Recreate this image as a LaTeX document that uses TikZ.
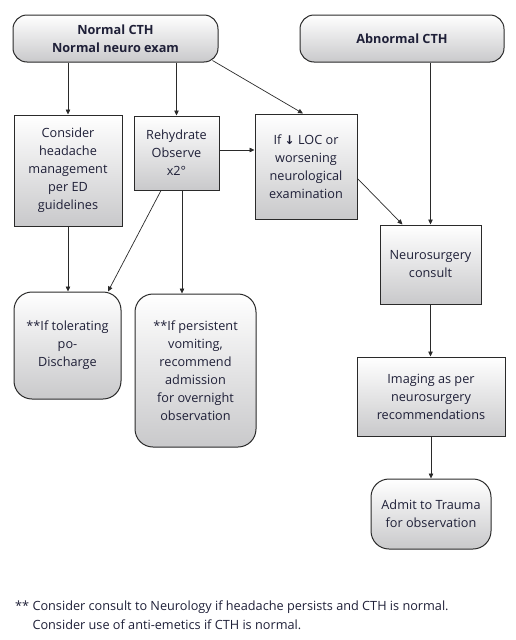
\documentclass[tikz,border=0pt]{standalone}
\usepackage{fontspec}
\setmainfont{Open Sans}
\newfontfamily\symfont{DejaVu Sans}
\usetikzlibrary{positioning,arrows.meta,calc}
\definecolor{ink}{HTML}{1F2038}
\definecolor{edge}{HTML}{2A2A2A}
\definecolor{shadebot}{HTML}{C9C9CB}
\tikzset{
  flowbox/.style={draw=edge, line width=1pt, top color=white, bottom color=shadebot,
    align=center, inner sep=0pt, text=ink, font=\fontsize{12.7}{18}\selectfont},
  roundbox/.style={flowbox, rounded corners=18pt},
  arr/.style={-{Triangle[length=5pt,width=4.5pt]}, draw=edge, line width=0.7pt}
}
\begin{document}
\begin{tikzpicture}[x=1pt,y=-1pt]
\useasboundingbox (0,0) rectangle (515,640);
% top row
\node[roundbox, rounded corners=14pt, minimum width=205pt, minimum height=47pt] (normal) at (115.5,38.5) {\textbf{Normal CTH}\\\textbf{Normal neuro exam}};
\node[roundbox, rounded corners=14pt, minimum width=204pt, minimum height=47pt] (abnormal) at (402,38.5) {\textbf{Abnormal CTH}};
% second row
\node[flowbox, minimum width=108pt, minimum height=111pt] (headache) at (68,170.5) {Consider\\headache\\management\\per ED\\guidelines};
\node[flowbox, minimum width=85pt, minimum height=74pt] (rehydrate) at (176.5,153) {Rehydrate\\Observe\\x2°};
\node[flowbox, minimum width=102pt, minimum height=105pt] (loc) at (306,166.5) {If {\symfont\bfseries\large ↓} LOC or\\worsening\\neurological\\examination};
\node[flowbox, minimum width=101pt, minimum height=79pt] (neuro) at (430.5,264.5) {Neurosurgery\\consult};
% outcomes
\node[roundbox, minimum width=107pt, minimum height=107pt] (tolerate) at (67.5,345.5) {**If tolerating\\po-\\Discharge};
\node[roundbox, minimum width=121pt, minimum height=153pt] (persist) at (195.5,370.5) {**If persistent\\vomiting,\\recommend\\admission\\for overnight\\observation};
\node[flowbox, minimum width=148pt, minimum height=79pt] (imaging) at (431,396.5) {Imaging as per\\neurosurgery\\recommendations};
\node[roundbox, minimum width=120pt, minimum height=70pt] (admit) at (431,514) {Admit to Trauma\\for observation};
% connectors
\draw[arr] (normal.south -| headache.north) -- (headache.north);
\draw[arr] (normal.south -| rehydrate.north) -- (rehydrate.north);
\draw[arr] ([xshift=-6pt,yshift=2pt]normal.south east) -- ([xshift=-3pt]loc.north);
\draw[arr] (abnormal.south -| neuro.north) -- (neuro.north);
\draw[arr] ([yshift=3pt]rehydrate.east) -- ([yshift=3pt]rehydrate.east -| loc.west);
\draw[arr] ([yshift=-12pt]loc.east) -- ([xshift=-28pt]neuro.north);
\draw[arr] (headache.south) -- (headache.south |- tolerate.north);
\draw[arr] ([xshift=-15.5pt]rehydrate.south) -- ([xshift=40.5pt]tolerate.north);
\draw[arr] ([xshift=5.5pt]rehydrate.south) -- ([xshift=5.5pt]rehydrate.south |- persist.north);
\draw[arr] (neuro.south) -- (neuro.south |- imaging.north);
\draw[arr] (imaging.south) -- (imaging.south |- admit.north);
% footnote
\node[anchor=west, align=left, inner sep=0pt, text=ink, font=\fontsize{12.7}{19}\selectfont] (note) at (15,615.5) {** Consider consult to Neurology if headache persists and CTH is normal.\\\phantom{** }Consider use of anti-emetics if CTH is normal.};
\end{tikzpicture}
\end{document}
